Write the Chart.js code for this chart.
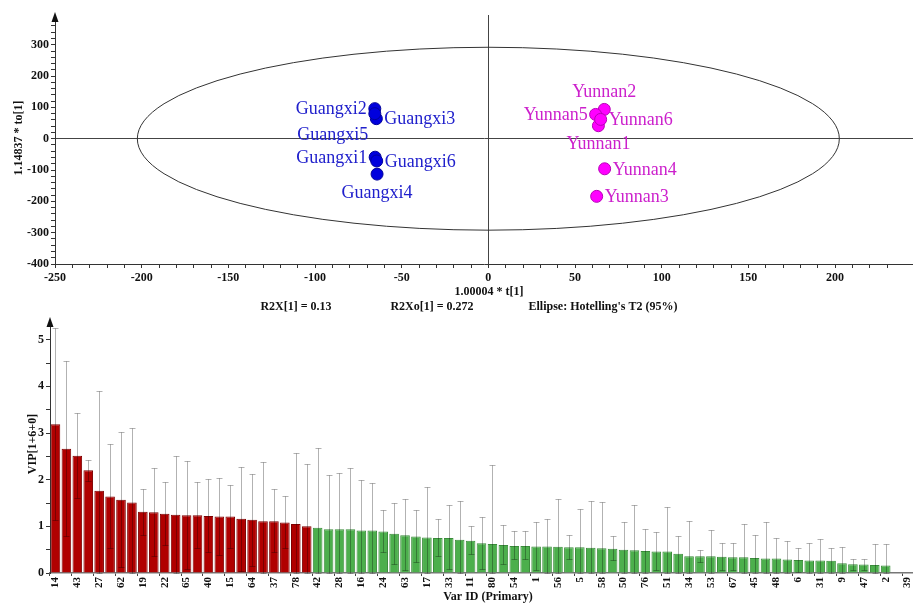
<!DOCTYPE html>
<html>
<head>
<meta charset="utf-8">
<script src="https://cdn.jsdelivr.net/npm/chart.js@4.4.1/dist/chart.umd.min.js"></script>
<style>
  html, body { margin: 0; padding: 0; background: #fff; }
  #wrap { position: relative; width: 913px; height: 603px; overflow: hidden; }
  canvas { position: absolute; left: 0; }
  #scoreChart { top: 0; }
  #vipChart { top: 300px; }
</style>
</head>
<body>
<div id="wrap">
  <canvas id="scoreChart" width="913" height="320"></canvas>
  <canvas id="vipChart" width="913" height="303"></canvas>
</div>
<script>
// score plot data (t[1] vs to[1])
const guangxiNames = ["Guangxi1", "Guangxi2", "Guangxi3", "Guangxi4", "Guangxi5", "Guangxi6"];
const guangxiT = [-65.3, -65.5, -64.6, -64.2, -65.5, -64.4];
const guangxiTo = [-59, 96, 64, -113, 80, -71];

const yunnanNames = ["Yunnan1", "Yunnan2", "Yunnan3", "Yunnan4", "Yunnan5", "Yunnan6"];
const yunnanT = [63.5, 66.9, 62.5, 67.1, 61.9, 64.8];
const yunnanTo = [41.5, 93.6, -184, -96, 77.6, 61.7];

// Hotelling's T2 (95%) ellipse half axes
const ellipseT = 202.5;
const ellipseTo = 292;

const summaryTexts = ["R2X[1] = 0.13", "R2Xo[1] = 0.272", "Ellipse: Hotelling's T2 (95%)"];

// VIP data, sorted
const varIds = [
  "14", "", "43", "", "27", "", "62", "", "19", "", "22", "", "65", "", "40", "", "15", "", "64", "",
  "37", "", "78", "", "42", "", "28", "", "16", "", "24", "", "63", "", "17", "", "33", "", "11", "",
  "80", "", "54", "", "1", "", "56", "", "5", "", "58", "", "50", "", "76", "", "51", "", "34", "",
  "53", "", "67", "", "45", "", "48", "", "6", "", "31", "", "9", "", "47", "", "2", "", "39"
];

const vipValues = [
  3.19, 2.66, 2.51, 2.2, 1.76, 1.64, 1.57, 1.51, 1.31, 1.3, 1.27, 1.25, 1.24, 1.24, 1.22, 1.21, 1.21, 1.16, 1.14, 1.11,
  1.11, 1.08, 1.05, 1.0, 0.97, 0.94, 0.94, 0.94, 0.91, 0.91, 0.89, 0.84, 0.81, 0.78, 0.76, 0.75, 0.75, 0.71, 0.69, 0.64,
  0.62, 0.6, 0.58, 0.58, 0.57, 0.57, 0.56, 0.55, 0.55, 0.54, 0.53, 0.52, 0.5, 0.49, 0.47, 0.46, 0.46, 0.41, 0.36, 0.36,
  0.36, 0.35, 0.34, 0.34, 0.32, 0.31, 0.31, 0.29, 0.28, 0.27, 0.27, 0.26, 0.21, 0.19, 0.18, 0.17, 0.16, 0.01, 0.01
];

const vipHigh = [
  5.26, 4.54, 3.43, 2.43, 3.9, 2.76, 3.03, 3.11, 1.8, 2.26, 1.95, 2.5, 2.4, 1.95, 2.02, 2.04, 1.89, 2.28, 2.12, 2.38,
  1.79, 1.64, 2.57, 2.34, 2.68, 2.11, 2.15, 2.26, 1.99, 1.93, 1.34, 1.51, 1.58, 1.35, 1.85, 1.16, 1.45, 1.55, 1.0, 1.2,
  2.32, 1.02, 0.91, 0.89, 1.1, 1.15, 1.59, 0.82, 1.38, 1.54, 1.52, 0.79, 1.1, 1.46, 0.95, 0.88, 1.41, 0.8, 1.11, 0.49,
  0.93, 0.65, 0.64, 1.04, 0.82, 1.1, 0.75, 0.68, 0.53, 0.64, 0.72, 0.54, 0.55, 0.31, 0.29, 0.63, 0.62, 0.01, 0.01
];

const vipLow = [
  1.13, 0.8, 1.61, 1.97, 0, 0.54, 0.13, 0, 0.82, 0.36, 0.59, 0, 0.09, 0.54, 0.44, 0.39, 0.54, 0.04, 0.16, 0,
  0.44, 0.54, 0, 0, 0, 0, 0, 0, 0, 0, 0.44, 0.19, 0.06, 0.23, 0, 0.36, 0.09, 0, 0.4, 0.09,
  0, 0.2, 0.29, 0.3, 0.07, 0, 0, 0.29, 0, 0, 0, 0.27, 0, 0, 0, 0.06, 0, 0, 0, 0.24,
  0, 0.07, 0.06, 0, 0, 0, 0, 0, 0.02, 0, 0, 0, 0, 0.06, 0.07, 0, 0, 0.01, 0.01
];

const SERIF = '"Liberation Serif", "DejaVu Serif", serif';
const boldFont = size => ({ family: SERIF, size: size, weight: "bold" });

function toPoints(xs, ys) {
  return xs.map((x, i) => ({ x: x, y: ys[i] }));
}

function drawArrow(ctx, x, tipY) {
  ctx.save();
  ctx.fillStyle = "#111";
  ctx.beginPath();
  ctx.moveTo(x, tipY);
  ctx.lineTo(x - 3.5, tipY + 10);
  ctx.lineTo(x + 3.5, tipY + 10);
  ctx.closePath();
  ctx.fill();
  ctx.restore();
}

function drawText(ctx, text, x, y, size, rotate) {
  ctx.save();
  ctx.font = "bold " + size + "px " + SERIF;
  ctx.fillStyle = "#111";
  ctx.textAlign = "center";
  ctx.textBaseline = "middle";
  ctx.translate(x, y);
  if (rotate)
    ctx.rotate(-Math.PI / 2);
  ctx.fillText(text, 0, 0);
  ctx.restore();
}

// where each label sits next to its point
const labelSide = {
  Guangxi1: "left", Guangxi2: "left", Guangxi3: "right",
  Guangxi4: "below", Guangxi5: "belowLeft", Guangxi6: "right",
  Yunnan1: "below", Yunnan2: "above", Yunnan3: "right",
  Yunnan4: "right", Yunnan5: "left", Yunnan6: "right"
};

const ellipsePlugin = {
  id: "ellipse",
  beforeDatasetsDraw(chart) {
    const { ctx, scales: { x, y } } = chart;
    const cx = x.getPixelForValue(0);
    const cy = y.getPixelForValue(0);
    const rx = x.getPixelForValue(ellipseT) - cx;
    const ry = cy - y.getPixelForValue(ellipseTo);
    ctx.save();
    ctx.beginPath();
    ctx.ellipse(cx, cy, rx, ry, 0, 0, Math.PI * 2);
    ctx.strokeStyle = "#333";
    ctx.lineWidth = 1;
    ctx.stroke();
    ctx.restore();
  }
};

const pointLabelPlugin = {
  id: "pointLabels",
  afterDatasetsDraw(chart) {
    const ctx = chart.ctx;
    ctx.save();
    ctx.font = "18px " + SERIF;
    ctx.textBaseline = "middle";
    chart.data.datasets.forEach((ds, di) => {
      const meta = chart.getDatasetMeta(di);
      ctx.fillStyle = ds.labelColor;
      meta.data.forEach((pt, i) => {
        const name = ds.names[i];
        const side = labelSide[name];
        let x = pt.x, y = pt.y + 1;
        if (side === "left") { ctx.textAlign = "right"; x -= 8; }
        else if (side === "right") { ctx.textAlign = "left"; x += 8; }
        else if (side === "above") { ctx.textAlign = "center"; y -= 18; }
        else if (side === "below") { ctx.textAlign = "center"; y += 18; }
        else { ctx.textAlign = "center"; x -= 42; y += 21; }
        ctx.fillText(name, x, y);
      });
    });
    ctx.restore();
  }
};

const scoreDecorPlugin = {
  id: "scoreDecor",
  afterDraw(chart) {
    const { ctx, chartArea } = chart;
    drawArrow(ctx, chartArea.left, chartArea.top - 3);
    drawText(ctx, "1.14837 * to[1]", 19, 138, 12, true);
    drawText(ctx, "1.00004 * t[1]", 489, 292, 12, false);
    drawText(ctx, summaryTexts[0], 296, 307, 12, false);
    drawText(ctx, summaryTexts[1], 432, 307, 12, false);
    drawText(ctx, summaryTexts[2], 603, 307, 12, false);
  }
};

const errorBarPlugin = {
  id: "errorBars",
  afterDatasetsDraw(chart) {
    const { ctx, scales: { y } } = chart;
    const meta = chart.getDatasetMeta(0);
    ctx.save();
    ctx.strokeStyle = "rgba(0, 0, 0, 0.3)";
    ctx.lineWidth = 1;
    meta.data.forEach((bar, i) => {
      if (vipHigh[i] - vipLow[i] < 0.05)
        return;
      const x = Math.round(bar.x) + 0.5;
      const top = Math.round(y.getPixelForValue(vipHigh[i])) + 0.5;
      const bottom = Math.round(y.getPixelForValue(vipLow[i])) + 0.5;
      ctx.beginPath();
      ctx.moveTo(x, top);
      ctx.lineTo(x, bottom);
      ctx.moveTo(x - 3, top);
      ctx.lineTo(x + 3, top);
      ctx.moveTo(x - 3, bottom);
      ctx.lineTo(x + 3, bottom);
      ctx.stroke();
    });
    ctx.restore();
  }
};

const vipDecorPlugin = {
  id: "vipDecor",
  afterDraw(chart) {
    const { ctx, chartArea } = chart;
    drawArrow(ctx, chartArea.left, 17);
    drawText(ctx, "VIP[1+6+0]", 33, 144, 12, true);
    drawText(ctx, "Var ID (Primary)", 488, 297, 12, false);
  }
};

function renderScoreChart() {
  const canvas = document.getElementById("scoreChart");
  return new Chart(canvas, {
    type: "scatter",
    data: {
      datasets: [{
        label: "Guangxi",
        names: guangxiNames,
        labelColor: "#2020cc",
        data: toPoints(guangxiT, guangxiTo),
        pointRadius: 6,
        backgroundColor: "#0000dd",
        borderColor: "#00009a",
        borderWidth: 1
      }, {
        label: "Yunnan",
        names: yunnanNames,
        labelColor: "#cc20cc",
        data: toPoints(yunnanT, yunnanTo),
        pointRadius: 6,
        backgroundColor: "#ff00ff",
        borderColor: "#b800b8",
        borderWidth: 1
      }]
    },
    options: {
      responsive: false,
      animation: false,
      layout: { autoPadding: false, padding: { top: 15, left: 0, right: 0, bottom: 0 } },
      plugins: { legend: { display: false }, tooltip: { enabled: false } },
      scales: {
        x: {
          type: "linear",
          min: -250,
          max: 245,
          afterFit: s => { s.height = 56; s.paddingLeft = 0; s.paddingRight = 0; },
          border: { color: "#333" },
          grid: {
            color: c => c.tick && c.tick.value === 0 ? "#444" : "rgba(0,0,0,0)",
            tickColor: "#333",
            tickLength: 4
          },
          ticks: {
            stepSize: 10,
            autoSkip: false,
            maxRotation: 0,
            padding: 3,
            color: "#111",
            font: boldFont(12),
            callback: v => v % 50 === 0 ? v : ""
          }
        },
        y: {
          min: -400,
          max: 395,
          afterFit: s => { s.width = 55; s.paddingTop = 0; s.paddingBottom = 0; },
          border: { color: "#333" },
          grid: {
            color: c => c.tick && c.tick.value === 0 ? "#444" : "rgba(0,0,0,0)",
            tickColor: c => c.tick && c.tick.value % 20 === 0 ? "#333" : "rgba(0,0,0,0)",
            tickLength: 4
          },
          ticks: {
            stepSize: 20,
            autoSkip: false,
            padding: 2,
            color: "#111",
            font: boldFont(12),
            callback: v => v % 100 === 0 ? v : ""
          }
        }
      }
    },
    plugins: [ellipsePlugin, pointLabelPlugin, scoreDecorPlugin]
  });
}

function renderVipChart() {
  const canvas = document.getElementById("vipChart");
  const fills = vipValues.map(v => v >= 1 ? "#b00000" : "#4caf4c");
  const borders = vipValues.map(v => v >= 1 ? "#7e0000" : "#3a8c3a");
  return new Chart(canvas, {
    type: "bar",
    data: {
      labels: varIds,
      datasets: [{
        label: "VIP",
        data: vipValues,
        backgroundColor: fills,
        borderColor: borders,
        borderWidth: 1,
        barPercentage: 0.88,
        categoryPercentage: 1
      }]
    },
    options: {
      responsive: false,
      animation: false,
      layout: { autoPadding: false, padding: { top: 21, left: 0, right: -3, bottom: 0 } },
      plugins: { legend: { display: false }, tooltip: { enabled: false } },
      scales: {
        x: {
          afterFit: s => { s.height = 30; s.paddingLeft = 0; s.paddingRight = 0; },
          border: { color: "#777", width: 1.5 },
          grid: {
            drawOnChartArea: false,
            tickColor: c => c.index % 2 === 0 ? "#444" : "rgba(0,0,0,0)",
            tickLength: 3
          },
          ticks: {
            autoSkip: false,
            minRotation: 90,
            maxRotation: 90,
            padding: 1,
            color: "#111",
            font: boldFont(11),
            callback: (v, i) => varIds[i]
          }
        },
        y: {
          min: 0,
          max: 5.4,
          afterFit: s => { s.width = 50; s.paddingTop = 0; s.paddingBottom = 0; },
          border: { color: "#333" },
          grid: {
            drawOnChartArea: false,
            tickColor: c => c.tick && Math.abs(c.tick.value * 2 - Math.round(c.tick.value * 2)) < 1e-6 ? "#333" : "rgba(0,0,0,0)",
            tickLength: 4
          },
          ticks: {
            stepSize: 0.5,
            autoSkip: false,
            padding: 2,
            color: "#111",
            font: boldFont(12),
            callback: v => Number.isInteger(v) ? v : ""
          }
        }
      }
    },
    plugins: [errorBarPlugin, vipDecorPlugin]
  });
}

renderScoreChart();
renderVipChart();
</script>
</body>
</html>
